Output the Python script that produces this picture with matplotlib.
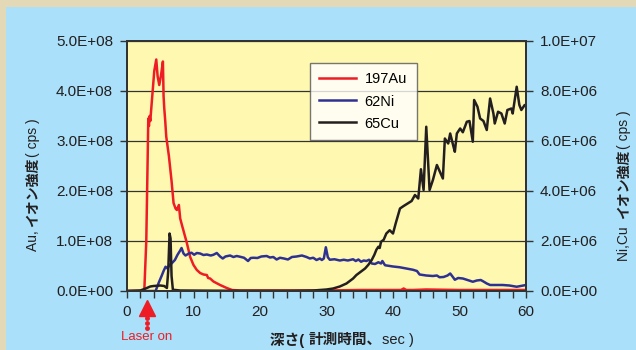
import matplotlib
matplotlib.use("Agg")
import matplotlib.pyplot as plt
from matplotlib.patches import Rectangle
from matplotlib.ticker import FuncFormatter, MultipleLocator

plt.rcParams['font.family'] = ['Liberation Sans', 'Noto Sans CJK JP', 'DejaVu Sans']

# depth profile data (time in sec)
au_t = [0, 2.6, 2.9, 3.1, 3.2, 3.3, 3.4, 3.5, 3.8, 4.1, 4.4, 4.6, 4.85, 5.1, 5.4,
        5.5, 5.6, 5.75, 5.9, 6.3, 6.7, 7.0, 7.3, 7.5, 7.8, 8.0, 8.3, 9.0, 9.5,
        10.0, 10.5, 11.0, 11.5, 12.0, 12.2, 12.5, 13.0, 14.0, 15.0, 15.8, 17,
        20, 25, 30, 35, 40, 41.2, 41.6, 42.0, 43, 45, 50, 55, 60]
au_cps = [0, 0, 1.0e8, 2.6e8, 3.45e8, 3.3e8, 3.5e8, 3.4e8, 3.9e8, 4.4e8, 4.63e8, 4.3e8,
          4.12e8, 4.3e8, 4.59e8, 3.9e8, 3.66e8, 3.4e8, 3.09e8, 2.7e8, 2.2e8, 1.76e8,
          1.65e8, 1.62e8, 1.72e8, 1.45e8, 1.3e8, 0.96e8, 0.68e8, 0.52e8, 0.42e8,
          0.36e8, 0.33e8, 0.32e8, 0.26e8, 0.25e8, 0.19e8, 0.12e8, 0.06e8, 0.02e8,
          0.01e8, 0.01e8, 0.01e8, 0.01e8, 0.02e8, 0.02e8, 0.02e8, 0.05e8, 0.02e8,
          0.02e8, 0.03e8, 0.02e8, 0.02e8, 0.02e8]

ni_t = [0, 4.3, 4.8, 5.2, 5.5, 5.8, 6.1, 6.4, 6.7, 7.2, 7.6, 8.0, 8.2, 8.5, 8.8,
        9.3, 9.7, 10.1, 10.5, 11.0, 11.5, 12.0, 12.6, 13.0, 13.5, 14.0, 14.4, 14.8,
        15.5, 16.0, 16.5, 17.0, 17.6, 18.2, 18.6, 19.0, 19.6, 20.2, 21.0, 21.5,
        22.0, 22.5, 23.0, 23.6, 24.2, 24.8, 25.5, 26.3, 27.0, 27.5, 28.0, 28.5,
        29.0, 29.3, 29.6, 29.9, 30.2, 30.5, 31.2, 32.0, 32.6, 33.2, 34.0, 34.4,
        34.8, 35.2, 35.6, 36.0, 36.4, 36.8, 37.3, 37.8, 38.2, 38.4, 38.8, 40.0,
        41.0, 42.0, 43.0, 43.6, 44.0, 45.0, 46.0, 46.6, 47.0, 47.6, 48.2, 48.6,
        49.0, 49.3, 49.8, 50.5, 51.2, 52.0, 52.6, 53.2, 53.6, 54.1, 54.6, 55.5,
        56.5, 57.5, 58.6, 59.2, 60]
ni_cps = [0, 0, 0.35, 0.6, 0.8, 0.97, 0.9, 1.05, 1.1, 1.24, 1.45, 1.62, 1.72, 1.5,
          1.42, 1.5, 1.53, 1.45, 1.52, 1.5, 1.44, 1.46, 1.42, 1.45, 1.52, 1.38, 1.3,
          1.38, 1.42, 1.36, 1.4, 1.37, 1.33, 1.2, 1.32, 1.33, 1.32, 1.38, 1.4, 1.34,
          1.36, 1.26, 1.33, 1.3, 1.26, 1.36, 1.38, 1.42, 1.36, 1.3, 1.33, 1.24, 1.3,
          1.24, 1.3, 1.75, 1.35, 1.25, 1.27, 1.22, 1.25, 1.22, 1.27, 1.2, 1.26, 1.17,
          1.22, 1.2, 1.25, 1.1, 1.08, 1.15, 1.1, 1.2, 1.03, 0.98, 0.95, 0.9, 0.85,
          0.8, 0.66, 0.62, 0.6, 0.62, 0.55, 0.56, 0.62, 0.7, 0.56, 0.45, 0.52, 0.5,
          0.44, 0.37, 0.42, 0.44, 0.38, 0.3, 0.24, 0.24, 0.24, 0.22, 0.17, 0.2, 0.24]
ni_cps = [v * 1e6 for v in ni_cps]

cu_t = [0, 2.0, 2.8, 3.5, 4.0, 5.0, 5.6, 6.0, 6.2, 6.4, 6.55, 6.7, 6.9, 8, 15, 20,
        25, 28, 29, 30, 31, 32, 33, 34, 34.5, 35.2, 35.8, 36.3, 36.8, 37.2, 37.5,
        37.8, 38.0, 38.2, 38.6, 39.0, 39.5, 40.0, 40.4, 41.05, 41.6, 42.2, 42.8,
        43.3, 43.8, 44.2, 44.6, 45.0, 45.5, 46.0, 46.6, 47.0, 47.5, 47.8, 48.3,
        48.6, 49.1, 49.3, 49.6, 50.1, 50.5, 51.1, 51.5, 52.0, 52.2, 52.7, 53.1,
        53.6, 54.1, 54.6, 55.1, 55.3, 55.8, 56.3, 56.8, 57.2, 57.8, 58.0, 58.6,
        59.0, 59.3, 59.8, 60]
cu_cps = [0, 0.02, 0.1, 0.18, 0.2, 0.22, 0.2, 0.12, 0.8, 2.3, 2.1, 0.6, 0.05, 0.02,
          0.01, 0.01, 0.01, 0.02, 0.04, 0.06, 0.1, 0.18, 0.3, 0.5, 0.64, 0.78, 0.9,
          1.05, 1.24, 1.45, 1.65, 1.77, 1.72, 1.97, 2.05, 2.3, 2.43, 2.3, 2.7, 3.3,
          3.4, 3.5, 3.6, 3.84, 3.7, 4.87, 4.04, 6.57, 4.04, 4.44, 5.04, 4.8, 4.5,
          6.1, 5.9, 6.3, 5.77, 5.57, 6.3, 6.5, 6.35, 6.77, 6.8, 5.97, 7.64, 7.37,
          6.9, 6.8, 6.44, 7.7, 7.1, 6.7, 7.17, 7.1, 6.7, 7.24, 7.3, 7.1, 8.17, 7.44,
          7.24, 7.44, 7.4]
cu_cps = [v * 1e6 for v in cu_cps]

laser_on_t = 3.0

RED = '#ee1c24'
BLUE = '#2e3192'
BLACK = '#231f20'
DARK = '#333333'

fig = plt.figure(figsize=(6.36, 3.5), dpi=100)
fig.patch.set_facecolor('#e3d9b6')
fig.patches.append(Rectangle((6 / 636, 0), 1, 1 - 7 / 350, transform=fig.transFigure,
                             facecolor='#aae0f9', edgecolor='none', zorder=-1))

ax = fig.add_axes([127 / 636, 1 - 291 / 350, 399 / 636, 250 / 350])
ax.set_facecolor('#fff8b0')
ax2 = ax.twinx()

l_au, = ax.plot(au_t, au_cps, color=RED, lw=1.8, label='197Au')
l_ni, = ax2.plot(ni_t, ni_cps, color=BLUE, lw=1.8, label='62Ni')
l_cu, = ax2.plot(cu_t, cu_cps, color=BLACK, lw=1.8, label='65Cu')

ax.set_xlim(0, 60)
ax.set_ylim(0, 5e8)
ax2.set_ylim(0, 1e7)
ax.xaxis.set_major_locator(MultipleLocator(10))
ax.xaxis.set_minor_locator(MultipleLocator(2))
ax.yaxis.set_major_locator(MultipleLocator(1e8))
ax2.yaxis.set_major_locator(MultipleLocator(2e6))
sci = FuncFormatter(lambda v, p: f"{v:.1E}")
ax.yaxis.set_major_formatter(sci)
ax2.yaxis.set_major_formatter(sci)
ax.grid(axis='y', color=DARK, lw=0.9)
ax.set_axisbelow(True)

for a in (ax, ax2):
    for s in a.spines.values():
        s.set_color(DARK)
        s.set_linewidth(1.4)
    a.tick_params(which='both', direction='out', length=5, width=1, color=DARK,
                  labelsize=11, labelcolor='#231f20', pad=5)
ax.tick_params(axis='x', which='minor', length=5)

leg = ax2.legend(handles=[l_au, l_ni, l_cu], loc='upper left',
                 bbox_to_anchor=(310 / 636, 1 - 63 / 350), bbox_transform=fig.transFigure,
                 borderaxespad=0, fontsize=10.5, frameon=True, fancybox=False,
                 handlelength=2.5, borderpad=0.65, labelspacing=0.55, handletextpad=0.6)
leg.get_frame().set_edgecolor('#555555')
leg.get_frame().set_linewidth(1.0)

# Laser on marker
xt = ax.get_xaxis_transform()
ax.plot([laser_on_t], [-0.068], marker='^', ms=11, color=RED, transform=xt, clip_on=False)
ax.plot([laser_on_t] * 3, [-0.108, -0.128, -0.148], ls='none', marker='o', ms=2.5,
        color=RED, transform=xt, clip_on=False)
ax.text(laser_on_t, -0.185, 'Laser on', color=RED, fontsize=9.5, ha='center', va='center',
        transform=xt)


def mixed_label(x, y, pieces, size, rotation=0):
    # place text pieces with different weights one after another, centered on (x, y)
    renderer = fig.canvas.get_renderer()
    texts, widths = [], []
    for s, w in pieces:
        t = fig.text(0, 0, s, fontsize=size, fontweight=w, ha='left', va='center',
                     color='#231f20')
        widths.append(t.get_window_extent(renderer).width)
        texts.append(t)
    total = sum(widths)
    px, py = fig.transFigure.transform((x, y))
    pos = (px if rotation == 0 else py) - total / 2
    inv = fig.transFigure.inverted()
    for t, wd in zip(texts, widths):
        if rotation == 0:
            t.set_position(inv.transform((pos, py)))
        else:
            t.set_rotation(rotation)
            t.set_rotation_mode('anchor')
            t.set_position(inv.transform((px, pos)))
        pos += wd


fig.canvas.draw()
mixed_label(342 / 636, 1 - 340 / 350, [('深さ( ', 'bold'), ('計測時間、', 'bold'), ('sec )', 'normal')], 10.5)
mixed_label(33 / 636, 1 - 185 / 350, [('Au, ', 'normal'), ('イオン強度', 'bold'), ('( cps )', 'normal')], 10, rotation=90)
mixed_label(624 / 636, 1 - 186 / 350, [('Ni,Cu  ', 'normal'), ('イオン強度', 'bold'), ('( cps )', 'normal')], 10, rotation=90)

fig.savefig('out.png', dpi=100, facecolor=fig.get_facecolor())
